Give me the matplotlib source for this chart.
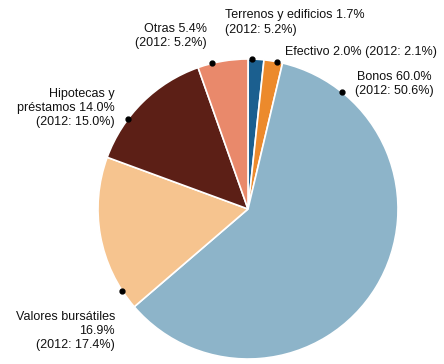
import numpy as np
import matplotlib.pyplot as plt

# data
labels = ["Terrenos y edificios 1.7%\n(2012: 5.2%)",
          "Efectivo 2.0% (2012: 2.1%)",
          "Bonos 60.0%\n(2012: 50.6%)",
          "Valores bursátiles\n16.9%\n(2012: 17.4%)",
          "Hipotecas y\npréstamos 14.0%\n(2012: 15.0%)",
          "Otras 5.4%\n(2012: 5.2%)"]
values = [1.7, 2.0, 60.0, 16.9, 14.0, 5.4]
colors = ["#1b5f8f", "#ec8a2c", "#8db4c9", "#f6c48f", "#5c1f16", "#e9896b"]

# label placement (pixels from top-left), dot angle on rim
dot_ang = [88.5, 79, 51, 213, 143, 104]
txt_xy = [(225, 22.5), (285, 52), (394, 84), (115, 331), (115, 108), (207, 36)]
txt_ha = ["left", "left", "center", "right", "right", "right"]

W, H = 444, 364
cx, cy, r = 248, H - 209, 150

plt.rcParams['font.family'] = ['Liberation Sans Narrow', 'Liberation Sans', 'DejaVu Sans']
fig = plt.figure(figsize=(W / 100, H / 100), dpi=100)
ax = fig.add_axes([0, 0, 1, 1])

ax.pie(values, colors=colors, startangle=90, counterclock=False,
       center=(cx, cy), radius=r,
       wedgeprops=dict(edgecolor='white', linewidth=1.2))
ax.set_xlim(0, W)
ax.set_ylim(0, H)
ax.set_aspect('equal')
ax.axis('off')

for lab, a, (tx, ty), ha in zip(labels, dot_ang, txt_xy, txt_ha):
    t = np.deg2rad(a)
    ax.plot(cx + r * np.cos(t), cy + r * np.sin(t), 'o', color='black', ms=3.5)
    ax.text(tx, H - ty, lab, ha=ha, va='center', multialignment=ha,
            fontsize=9, linespacing=1.25, color='#111111')

fig.savefig("out.png", dpi=100)
